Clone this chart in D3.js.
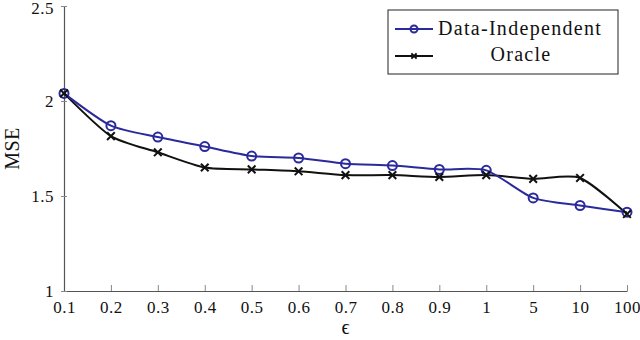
<!DOCTYPE html>
<html>
<head>
<meta charset="utf-8">
<script src="https://cdn.jsdelivr.net/npm/d3@7"></script>
<style>
body { margin: 0; background: #fff; }
text { font-family: "Liberation Serif", "DejaVu Serif", serif; fill: #111; }
</style>
</head>
<body>
<div id="chart"></div>
<script>
var categories = ["0.1", "0.2", "0.3", "0.4", "0.5", "0.6", "0.7", "0.8", "0.9", "1", "5", "10", "100"];
var dataIndependent = [2.04, 1.87, 1.81, 1.76, 1.71, 1.70, 1.67, 1.66, 1.64, 1.635, 1.49, 1.45, 1.415];
var oracle = [2.04, 1.815, 1.73, 1.65, 1.64, 1.63, 1.61, 1.61, 1.60, 1.61, 1.59, 1.595, 1.405];
var yTicks = [1, 1.5, 2, 2.5];
var seriesNames = ["Data-Independent", "Oracle"];

var svgWidth = 640;
var svgHeight = 340;
var margin = { top: 6, right: 13, bottom: 49, left: 64 };
var width = svgWidth - margin.left - margin.right;
var height = svgHeight - margin.top - margin.bottom;

var svg = d3.select("#chart")
    .append("svg")
    .attr("width", svgWidth)
    .attr("height", svgHeight);

var chartGroup = svg.append("g")
    .attr("transform", `translate(${margin.left},${margin.top})`);

var xScale = d3.scalePoint()
    .domain(categories)
    .range([0, width]);
var yScale = d3.scaleLinear()
    .domain([1, 2.5])
    .range([height, 0]);

// axes: only bottom and left lines, ticks grey
var bottomAxis = d3.axisBottom(xScale).tickSizeInner(-6).tickSizeOuter(0).tickPadding(10);
var leftAxis = d3.axisLeft(yScale).tickValues(yTicks).tickFormat(d3.format("")).tickSizeInner(0).tickSizeOuter(0).tickPadding(10);

var xAxis = chartGroup.append("g")
    .attr("transform", `translate(0,${height})`)
    .call(bottomAxis);
xAxis.select(".domain").attr("stroke", "#555").attr("stroke-width", 1.2);
xAxis.selectAll(".tick line").attr("stroke", "#888");
xAxis.selectAll(".tick text").attr("font-size", 17).attr("letter-spacing", 0.5).attr("fill", "#111");

var yAxis = chartGroup.append("g").call(leftAxis);
yAxis.select(".domain").attr("stroke", "#555").attr("stroke-width", 1.2);
yAxis.selectAll(".tick").append("line")
    .attr("x1", -3).attr("x2", 3).attr("stroke", "#888");
yAxis.selectAll(".tick text").attr("font-size", 17).attr("letter-spacing", 0.5).attr("fill", "#111")
    .attr("dy", d => d === 2.5 ? "0.42em" : "0.32em");

var line = d3.line()
    .x((d, i) => xScale(categories[i]))
    .y(d => yScale(d))
    .curve(d3.curveCardinal.tension(0.3));

var blue = "#2a2a9c";
var black = "#111";

chartGroup.append("path")
    .datum(oracle)
    .attr("d", line)
    .attr("fill", "none")
    .attr("stroke", black)
    .attr("stroke-width", 2);

chartGroup.append("path")
    .datum(dataIndependent)
    .attr("d", line)
    .attr("fill", "none")
    .attr("stroke", blue)
    .attr("stroke-width", 2);

chartGroup.selectAll(".di-mark")
    .data(dataIndependent)
    .enter()
    .append("circle")
    .attr("class", "di-mark")
    .attr("cx", (d, i) => xScale(categories[i]))
    .attr("cy", d => yScale(d))
    .attr("r", 4.5)
    .attr("fill", "none")
    .attr("stroke", blue)
    .attr("stroke-width", 2);

var cross = d3.symbol().type(d3.symbolX).size(40);
chartGroup.selectAll(".or-mark")
    .data(oracle)
    .enter()
    .append("path")
    .attr("class", "or-mark")
    .attr("transform", (d, i) => `translate(${xScale(categories[i])},${yScale(d)})`)
    .attr("d", cross)
    .attr("fill", "none")
    .attr("stroke", black)
    .attr("stroke-width", 2);

// axis titles
svg.append("text")
    .attr("x", margin.left + xScale("0.7"))
    .attr("y", 334)
    .attr("text-anchor", "middle")
    .attr("font-size", 20)
    .text("ϵ");

svg.append("text")
    .attr("transform", `translate(19,${margin.top + height / 2}) rotate(-90)`)
    .attr("text-anchor", "middle")
    .attr("font-size", 20)
    .attr("letter-spacing", 0.5)
    .text("MSE");

// legend
var legend = svg.append("g").attr("transform", "translate(388,10)");
legend.append("rect")
    .attr("width", 230).attr("height", 64)
    .attr("fill", "#fff").attr("stroke", "#222").attr("stroke-width", 1);

legend.append("line").attr("x1", 7).attr("x2", 45).attr("y1", 19).attr("y2", 19)
    .attr("stroke", blue).attr("stroke-width", 2);
legend.append("circle").attr("cx", 26).attr("cy", 19).attr("r", 3.5)
    .attr("fill", "none").attr("stroke", blue).attr("stroke-width", 2);
legend.append("text").attr("x", 50).attr("y", 25).attr("font-size", 20).attr("letter-spacing", 1.3).text(seriesNames[0]);

legend.append("line").attr("x1", 7).attr("x2", 45).attr("y1", 46).attr("y2", 46)
    .attr("stroke", black).attr("stroke-width", 2);
legend.append("path").attr("transform", "translate(26,46)").attr("d", d3.symbol().type(d3.symbolX).size(20))
    .attr("fill", "none").attr("stroke", black).attr("stroke-width", 2);
legend.append("text").attr("x", 133).attr("y", 51).attr("text-anchor", "middle").attr("font-size", 20).attr("letter-spacing", 1.3).text(seriesNames[1]);
</script>
</body>
</html>
